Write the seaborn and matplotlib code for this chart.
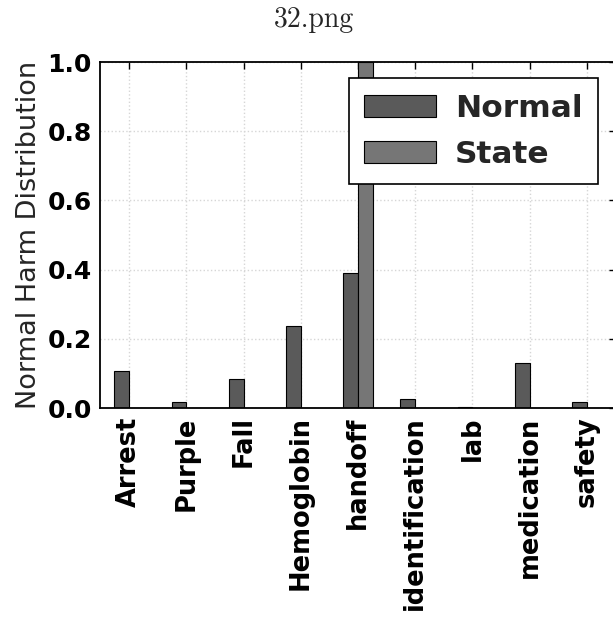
import matplotlib
matplotlib.use("Agg")
import matplotlib.pyplot as plt
import seaborn as sns
import pandas as pd
from matplotlib.patches import Patch

# Harm categories and normalized harm distribution per source
categories = ["Arrest", "Purple", "Fall", "Hemoglobin", "handoff",
              "identification", "lab", "medication", "safety"]
normal_values = [0.107, 0.018, 0.085, 0.237, 0.389, 0.026, 0.004, 0.129, 0.018]
state_values = [0.0, 0.0, 0.0, 0.0, 1.0, 0.0, 0.0, 0.0, 0.0]
series_names = ["Normal", "State"]
y_ticks = [0.0, 0.2, 0.4, 0.6, 0.8, 1.0]

df = pd.DataFrame({
    "category": categories * 2,
    "value": normal_values + state_values,
    "series": [series_names[0]] * len(categories) + [series_names[1]] * len(categories),
})

sns.set_style("white")
plt.rcParams["font.family"] = ["DejaVu Sans"]

colors = {"Normal": "#5a5a5a", "State": "#767676"}

fig = plt.figure(figsize=(6.13, 6.26), dpi=100)
ax = fig.add_axes([100 / 613, 218 / 626, 516 / 613, 346 / 626])

sns.barplot(data=df, x="category", y="value", hue="series", order=categories,
            hue_order=series_names, palette=colors, width=0.52, gap=0,
            edgecolor="black", linewidth=0.8, saturation=1, ax=ax,
            legend=False, errorbar=None)

ax.set_xlim(-0.51, 8.51)
ax.set_ylim(0, 1.0)
ax.set_yticks(y_ticks)
ax.set_yticklabels([f"{t:.1f}" for t in y_ticks], fontsize=18, fontweight="bold")
ax.set_xticks(range(len(categories)))
ax.set_xticklabels(categories, rotation=90, fontsize=18.5, fontweight="bold")
ax.set_xlabel("")
ax.set_ylabel("Normal Harm Distribution", fontsize=19.5, labelpad=4)

ax.set_axisbelow(True)
ax.grid(True, linestyle=":", color="#d6d6d6", linewidth=1.0)
ax.tick_params(axis="both", direction="in", length=5, width=1, top=True,
               right=True, pad=6, colors="black")
for s in ax.spines.values():
    s.set_visible(True)
    s.set_color("black")
    s.set_linewidth(1.3)

handles = [Patch(facecolor=colors[n], edgecolor="black", linewidth=0.8) for n in series_names]
leg = ax.legend(handles, series_names, loc="upper right",
                bbox_to_anchor=(598 / 613, 1 - 78 / 626),
                bbox_transform=fig.transFigure, borderaxespad=0,
                prop={"size": 22.5, "weight": "bold"}, handlelength=2.3,
                handleheight=0.72, handletextpad=0.6, labelspacing=0.55,
                borderpad=0.5, frameon=True, fancybox=False, framealpha=1)
leg.get_frame().set_edgecolor("black")
leg.get_frame().set_linewidth(1.2)

fig.text(0.512, 1 - 20 / 626, "32.png", ha="center", va="center",
         fontsize=20, family=["cmr10", "DejaVu Serif"])

fig.savefig("out.png", dpi=100)
